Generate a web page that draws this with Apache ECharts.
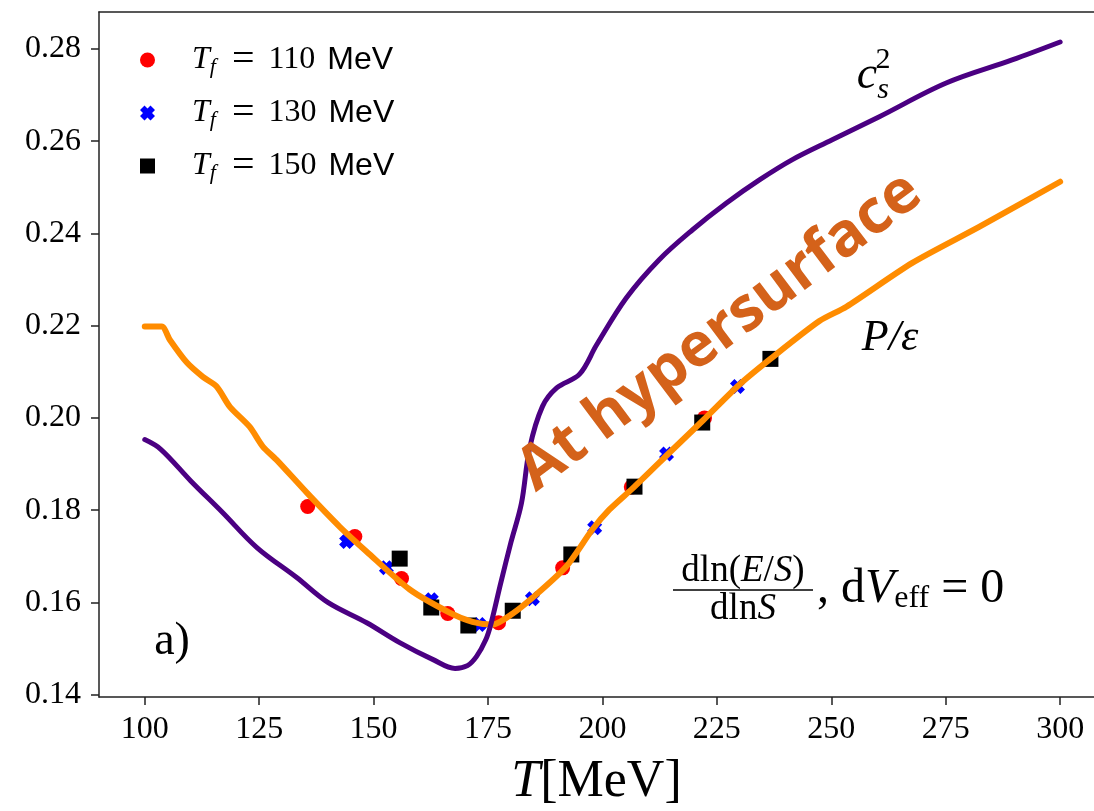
<!DOCTYPE html>
<html><head><meta charset="utf-8">
<script src="https://cdn.jsdelivr.net/npm/echarts@6/dist/echarts.min.js"></script>
<style>html,body{margin:0;padding:0;background:#fff}#c{width:1094px;height:811px}</style>
</head><body><div id="c"></div>
<script>
// ---- data ----
const xTicks = [100, 125, 150, 175, 200, 225, 250, 275, 300];
const yTicks = [0.14, 0.16, 0.18, 0.20, 0.22, 0.24, 0.26, 0.28];

// c_s^2 curve (purple)
const cs2T = [100, 103.5, 110, 117, 124.5, 133.2, 140, 148.5, 155.7, 163, 167.8, 170.5, 172.5, 174.5, 175.6, 177.8, 180, 182.3, 184.1, 186.9, 190, 195, 198.7, 205.2, 212.4, 219.7, 227.1, 234.3, 241.5, 250.2, 260.5, 275.1, 289.5, 300];
const cs2V = [0.1953, 0.1932, 0.1864, 0.1795, 0.1719, 0.1654, 0.1600, 0.1556, 0.1513, 0.1476, 0.1457, 0.1463, 0.1483, 0.1519, 0.1552, 0.1643, 0.1730, 0.1815, 0.1935, 0.2025, 0.2065, 0.2095, 0.2158, 0.2260, 0.2343, 0.2408, 0.2466, 0.2516, 0.2560, 0.2603, 0.2653, 0.2726, 0.2776, 0.2815];

// P/epsilon curve (orange)
const peT = [100, 103.7, 105.5, 109.2, 112.7, 115.7, 118.6, 122.9, 125.8, 128.8, 135.4, 142.6, 148.5, 157.9, 166.6, 171.6, 176, 180.4, 184.7, 192.1, 197.8, 201.5, 207, 215.3, 222, 229.9, 236.7, 247.4, 253.3, 267.7, 282.3, 300];
const peV = [0.2198, 0.2198, 0.2169, 0.2120, 0.2089, 0.2068, 0.2024, 0.1981, 0.1938, 0.1909, 0.1838, 0.1764, 0.1710, 0.1628, 0.1578, 0.1558, 0.1552, 0.1576, 0.1610, 0.1678, 0.1758, 0.1801, 0.1851, 0.1931, 0.1995, 0.2072, 0.2128, 0.2210, 0.2241, 0.2336, 0.2414, 0.2512];

// T_f = 110 MeV (red circles)
const tf110T = [135.6, 145.9, 156.1, 166.2, 177.3, 191.3, 206.3, 222.3];
const tf110V = [0.1808, 0.1743, 0.1652, 0.1576, 0.1556, 0.1675, 0.1850, 0.2000];
// T_f = 130 MeV (blue crosses)
const tf130T = [144.1, 152.8, 162.6, 173.1, 184.7, 198.3, 214.0, 229.5];
const tf130V = [0.1732, 0.1675, 0.1606, 0.1552, 0.1608, 0.1762, 0.1922, 0.2068];
// T_f = 150 MeV (black squares)
const tf150T = [155.7, 162.6, 170.7, 180.4, 193.2, 207.0, 221.8, 236.7];
const tf150V = [0.1695, 0.1589, 0.1550, 0.1582, 0.1704, 0.1851, 0.1990, 0.2128];

const legendLabels = ['110', '130', '150'];
const seriesNames = ['Tf110', 'Tf130', 'Tf150'];

// ---- chart ----
const SERIF = "'Liberation Serif', 'DejaVu Serif', serif";
const SANS = "'Liberation Sans', Arial, sans-serif";
const zip = (a, b) => a.map((v, i) => [v, b[i]]);
const xSym = 'path://M3,0 L5,2 L7,0 L10,3 L8,5 L10,7 L7,10 L5,8 L3,10 L0,7 L2,5 L0,3 Z';

const chart = echarts.init(document.getElementById('c'), null, {renderer: 'canvas'});
const axisLineStyle = {color: '#222', width: 1.5};

chart.setOption({
  animation: false,
  backgroundColor: '#fff',
  grid: {left: 99, right: 0, top: 12, bottom: 114, outerBoundsMode: 'none', containLabel: false},
  xAxis: [{
    type: 'value', min: 90, max: 307.4, position: 'bottom',
    axisLine: {show: true, lineStyle: axisLineStyle},
    axisTick: {show: true, length: 8, lineStyle: axisLineStyle, customValues: xTicks},
    axisLabel: {show: true, customValues: xTicks, margin: 17, color: '#000', fontFamily: SERIF, fontSize: 32},
    splitLine: {show: false},
    name: '{i|T}{r|[MeV]}', nameLocation: 'middle', nameGap: 59,
    nameTextStyle: {rich: {
      i: {fontFamily: SERIF, fontStyle: 'italic', fontSize: 52, color: '#000'},
      r: {fontFamily: SERIF, fontSize: 52, color: '#000'}
    }}
  }, {
    type: 'value', min: 90, max: 307.4, position: 'top',
    axisLine: {show: true, lineStyle: axisLineStyle},
    axisTick: {show: false}, axisLabel: {show: false}, splitLine: {show: false}
  }],
  yAxis: [{
    type: 'value', min: 0.1395, max: 0.288,
    axisLine: {show: true, lineStyle: axisLineStyle},
    axisTick: {show: true, length: 8, lineStyle: axisLineStyle, customValues: yTicks},
    axisLabel: {show: true, customValues: yTicks, margin: 18, color: '#000', fontFamily: SERIF, fontSize: 32,
      formatter: v => v.toFixed(2)},
    splitLine: {show: false}
  }],
  legend: {
    data: seriesNames,
    orient: 'vertical', left: 140, top: 40, padding: 0,
    itemWidth: 15, itemHeight: 15, itemGap: 13,
    selectedMode: false,
    formatter: name => {
      const k = seriesNames.indexOf(name);
      return '{t|T}{s|f}{q|=}{n|' + legendLabels[k] + '}{m|MeV}';
    },
    textStyle: {color: '#000', rich: {
      t: {fontFamily: SERIF, fontStyle: 'italic', fontSize: 32, lineHeight: 36, padding: [0, 0, 0, 32]},
      s: {fontFamily: SERIF, fontStyle: 'italic', fontSize: 22, lineHeight: 26, verticalAlign: 'bottom', padding: [0, 16, 0, 0]},
      q: {fontFamily: SERIF, fontSize: 40, lineHeight: 36, padding: [0, 14, 0, 0]},
      n: {fontFamily: SERIF, fontSize: 32, lineHeight: 36, padding: [0, 12, 0, 0]},
      m: {fontFamily: SANS, fontSize: 32, lineHeight: 36}
    }}
  },
  series: [
    {type: 'line', name: 'P/eps', data: zip(peT, peV), showSymbol: false, symbol: 'none', smooth: 0.25,
     lineStyle: {color: '#FF8C00', width: 6, cap: 'round', join: 'round'}, silent: true},
    {type: 'line', name: 'cs2', data: zip(cs2T, cs2V), showSymbol: false, symbol: 'none', smooth: 0.35,
     lineStyle: {color: '#4B0082', width: 5, cap: 'round', join: 'round'}, silent: true},
    {type: 'scatter', name: seriesNames[0], data: zip(tf110T, tf110V), symbol: 'circle', symbolSize: 15,
     itemStyle: {color: '#FF0000', opacity: 1}, silent: true},
    {type: 'scatter', name: seriesNames[1], data: zip(tf130T, tf130V), symbol: xSym, symbolSize: 15,
     itemStyle: {color: '#0000FF', opacity: 1}, silent: true},
    {type: 'scatter', name: seriesNames[2], data: zip(tf150T, tf150V), symbol: 'rect', symbolSize: 16,
     itemStyle: {color: '#000000', opacity: 1}, silent: true}
  ],
  graphic: [
    {type: 'text', x: 720, y: 332, rotation: 37 * Math.PI / 180, z: 100,
     style: {text: 'At hypersurface', fontFamily: "'Open Sans', sans-serif", fontWeight: 'bold', fontSize: 61,
       fill: '#D4621A', align: 'center', verticalAlign: 'middle', textAlign: 'center', textVerticalAlign: 'middle'}},
    {type: 'text', x: 867, y: 76, z: 100,
     style: {text: 'c', fontFamily: SERIF, fontStyle: 'italic', fontSize: 46, fill: '#000', align: 'center', verticalAlign: 'middle'}},
    {type: 'text', x: 883, y: 60, z: 100,
     style: {text: '2', fontFamily: SERIF, fontSize: 30, fill: '#000', align: 'center', verticalAlign: 'middle'}},
    {type: 'text', x: 883, y: 90, z: 100,
     style: {text: 's', fontFamily: SERIF, fontStyle: 'italic', fontSize: 30, fill: '#000', align: 'center', verticalAlign: 'middle'}},
    {type: 'text', x: 890, y: 338, z: 100,
     style: {text: 'P/ε', fontFamily: SERIF, fontStyle: 'italic', fontSize: 44, fill: '#000', align: 'center', verticalAlign: 'middle'}},
    {type: 'text', x: 172, y: 642, z: 100,
     style: {text: 'a)', fontFamily: SERIF, fontSize: 46, fill: '#000', align: 'center', verticalAlign: 'middle'}},
    {type: 'text', x: 743, y: 571, z: 100,
     style: {text: '{n|dln(}{i|E}{n|/}{i|S}{n|)}', align: 'center', verticalAlign: 'middle',
       rich: {n: {fontFamily: SERIF, fontSize: 37, fill: '#000'}, i: {fontFamily: SERIF, fontStyle: 'italic', fontSize: 37, fill: '#000'}}}},
    {type: 'line', z: 100, shape: {x1: 673, y1: 590, x2: 813, y2: 590}, style: {stroke: '#000', lineWidth: 1.5}},
    {type: 'text', x: 743, y: 609, z: 100,
     style: {text: '{n|dln}{i|S}', align: 'center', verticalAlign: 'middle',
       rich: {n: {fontFamily: SERIF, fontSize: 37, fill: '#000'}, i: {fontFamily: SERIF, fontStyle: 'italic', fontSize: 37, fill: '#000'}}}},
    {type: 'text', x: 817, y: 589, z: 100,
     style: {text: '{n|, d}{i|V}{s|eff}{n| = 0}', align: 'left', verticalAlign: 'middle',
       rich: {
         n: {fontFamily: SERIF, fontSize: 48, lineHeight: 52, fill: '#000'},
         i: {fontFamily: SERIF, fontStyle: 'italic', fontSize: 48, lineHeight: 52, fill: '#000'},
         s: {fontFamily: SERIF, fontSize: 32, lineHeight: 34, verticalAlign: 'bottom', fill: '#000'}
       }}}
  ]
});
</script>
</body></html>
